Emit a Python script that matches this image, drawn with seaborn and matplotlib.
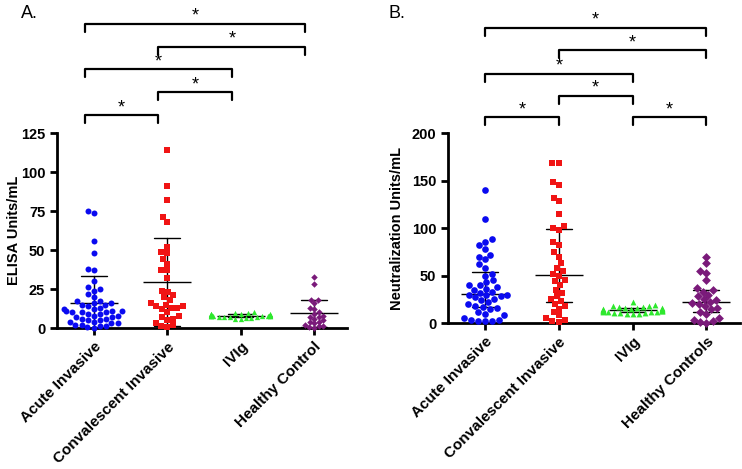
import matplotlib
matplotlib.use('Agg')
import matplotlib.pyplot as plt
import numpy as np
import pandas as pd
import seaborn as sns

# ---- data ----
groups_a = ['Acute Invasive', 'Convalescent Invasive', 'IVIg', 'Healthy Control']
groups_b = ['Acute Invasive', 'Convalescent Invasive', 'IVIg', 'Healthy Controls']

acute_a = [75, 74, 56, 48, 38, 37, 30, 26, 25, 24, 22, 20, 17, 17, 16, 16, 15, 15, 14, 13,
           12, 12, 11, 11, 11, 10, 10, 10, 9, 9, 8, 8, 7, 7, 6, 6, 5, 5, 4, 4, 3, 3, 2, 2, 1, 1, 0.5, 0]
conv_a = [114, 91, 82, 71, 68, 52, 49, 48, 44, 41, 37, 37, 32, 24, 23, 21, 20, 18, 16, 15,
          14, 14, 13, 13, 12, 10, 8, 7, 6, 5, 3, 2, 1, 0.5]
ivig_a = [10, 9.5, 9.5, 9, 9, 9, 9, 8.5, 8.5, 8.5, 8.5, 8.5, 8, 8, 8, 8, 8, 8, 7.5, 7.5,
          7.5, 7.5, 7, 7, 7, 7, 6.5, 6.5, 6, 5.5]
hc_a = [33, 28, 18, 18, 16, 13, 12, 10, 9, 8, 7, 7, 6, 5, 4, 4, 3, 2, 1, 1, 0.5, 0]

acute_b = [140, 110, 88, 85, 82, 78, 72, 70, 67, 62, 58, 52, 50, 45, 43, 40, 40, 38, 36, 35,
           33, 32, 30, 30, 29, 28, 27, 25, 24, 22, 20, 18, 17, 16, 15, 12, 10, 8, 5, 3, 3, 2, 2, 2]
conv_b = [168, 168, 148, 145, 132, 128, 115, 102, 100, 98, 85, 82, 75, 70, 63, 58, 55, 52, 50, 45,
          44, 40, 35, 32, 28, 25, 23, 20, 18, 15, 12, 8, 5, 3, 2, 1]
ivig_b = [22, 19, 18, 18, 17, 17, 16, 16, 16, 15, 15, 15, 14, 14, 14, 14, 13, 13, 13, 13,
          12, 12, 12, 12, 11, 11, 11, 10, 10, 9]
hc_b = [70, 63, 55, 53, 45, 37, 35, 33, 30, 28, 25, 24, 22, 21, 20, 18, 16, 15, 12, 10,
        5, 3, 2, 1, 0.5]

# significance brackets: (group i, group j, level)
pairs_a = [(0, 1, 0), (1, 2, 1), (0, 2, 2), (1, 3, 3), (0, 3, 4)]
pairs_b = [(0, 1, 0), (2, 3, 0), (1, 2, 1), (0, 2, 2), (1, 3, 3), (0, 3, 4)]

colors = ['#0a0af0', '#f01414', '#2ee82e', '#7a1a7a']
markers = ['o', 's', '^', 'D']


def make_df(order, values):
    return pd.concat([pd.DataFrame({'group': g, 'value': v}) for g, v in zip(order, values)],
                     ignore_index=True)


df_a = make_df(groups_a, [acute_a, conv_a, ivig_a, hc_a])
df_b = make_df(groups_b, [acute_b, conv_b, ivig_b, hc_b])

sns.set_style('ticks')
plt.rcParams['font.family'] = ['Liberation Sans', 'DejaVu Sans']
plt.rcParams.update({'text.color': 'black', 'axes.labelcolor': 'black',
                     'xtick.color': 'black', 'ytick.color': 'black',
                     'axes.edgecolor': 'black'})

fig = plt.figure(figsize=(7.42, 4.69), dpi=100)
ax1 = fig.add_axes([0.0768, 0.3006, 0.391, 0.4158])
ax2 = fig.add_axes([0.6038, 0.3113, 0.393, 0.405])


def panel(ax, df, order, sizes, estimator, errorbar, ymax, step, ylabel, pairs, levels, shift):
    for g, c, m, s in zip(order, colors, markers, sizes):
        sns.swarmplot(data=df[df['group'] == g], x='group', y='value', order=order,
                      color=c, marker=m, size=s, linewidth=0, ax=ax, clip_on=False)
    sns.pointplot(data=df, x='group', y='value', order=order, estimator=estimator,
                  errorbar=errorbar, color='black', linestyle='none', marker='_',
                  markersize=35, markeredgewidth=1, capsize=0.35,
                  err_kws={'linewidth': 1}, ax=ax)
    ax.set_xlim(-0.5, 3.45)
    ax.set_ylim(0, ymax)
    ax.set_yticks(np.arange(0, ymax + 1, step))
    sns.despine(ax=ax)
    for sp in ['left', 'bottom']:
        ax.spines[sp].set_linewidth(2)
    ax.tick_params(width=2, length=5, labelsize=10.5)
    for lab in ax.get_yticklabels():
        lab.set_fontweight('bold')
    ax.set_xticks(range(4))
    ax.set_xticklabels(order, rotation=45, ha='right', rotation_mode='anchor',
                       fontsize=11, fontweight='bold')
    ax.set_xlabel('')
    ax.set_ylabel(ylabel, fontsize=10.5, fontweight='bold')
    tr = ax.get_xaxis_transform()
    for i, j, lv in pairs:
        y = levels[lv]
        x0, x1 = i - shift, j - shift
        ax.plot([x0, x0, x1, x1], [y - 0.04, y, y, y - 0.04], transform=tr,
                color='black', lw=1.6, clip_on=False)
        ax.text((x0 + x1) / 2, y - 0.005, '*', transform=tr, ha='center', va='bottom',
                fontsize=13)


panel(ax1, df_a, groups_a, [4.3, 4.3, 3.8, 3.3], 'mean', 'sd', 125, 25, 'ELISA Units/mL',
      pairs_a, [1.092, 1.210, 1.328, 1.441, 1.559], 0.12)
panel(ax2, df_b, groups_b, [4.8, 4.5, 4.2, 4.5], 'median', ('pi', 50), 200, 50,
      'Neutralization Units/mL', pairs_b, [1.084, 1.195, 1.311, 1.437, 1.553], 0.0)

ax1.yaxis.set_label_coords(-0.125, 0.5)
ax2.yaxis.set_label_coords(-0.15, 0.5)

fig.text(0.028, 0.99, 'A.', fontsize=13, va='top')
fig.text(0.523, 0.99, 'B.', fontsize=13, va='top')

fig.savefig('out.png', dpi=100)
